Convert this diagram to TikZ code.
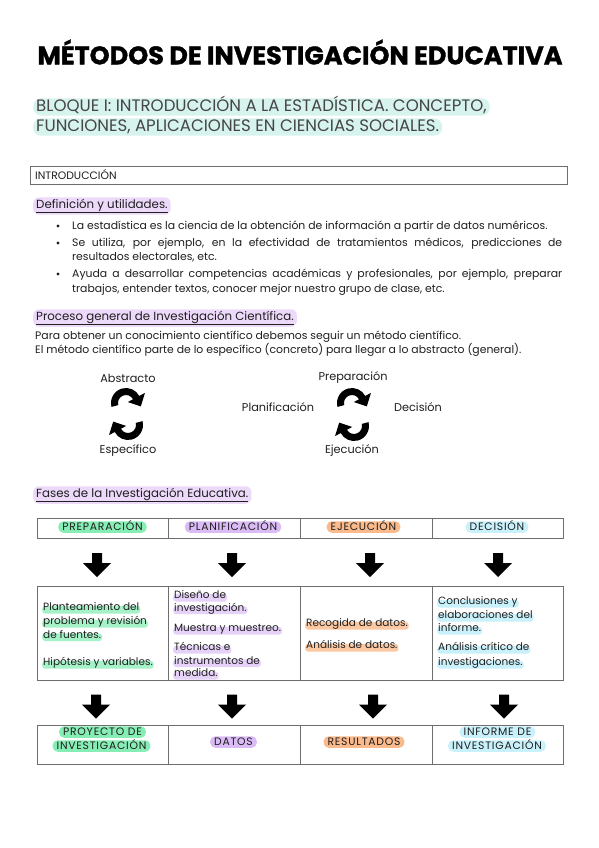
\documentclass[tikz,border=0pt]{standalone}
\usepackage{fontspec}
\setmainfont{Poppins}
\usetikzlibrary{arrows.meta}
\definecolor{teal1}{HTML}{D6F3EE}
\definecolor{lav}{HTML}{EDD9FA}
\definecolor{grn}{HTML}{86EEB4}
\definecolor{grnl}{HTML}{A6F2C8}
\definecolor{pur}{HTML}{DBBBF5}
\definecolor{purl}{HTML}{E6D2F8}
\definecolor{org}{HTML}{FBBA8C}
\definecolor{orgl}{HTML}{FCC8A2}
\definecolor{blu}{HTML}{C9F1FB}
\definecolor{txt}{HTML}{1F1F1F}
\definecolor{txtg}{HTML}{464646}
\definecolor{rule}{HTML}{6E6E6E}
\newcommand\cycTop[2]{%
  \fill[black] ([shift={(#1,#2)}]-195:15) arc[start angle=-195, end angle=-28, radius=15]
    -- ([shift={(#1,#2)}]-28:21.5) -- ([shift={(#1,#2)}]14.8,3.4) -- ([shift={(#1,#2)}]-28:2)
    -- ([shift={(#1,#2)}]-28:8) arc[start angle=-28, end angle=-195, radius=8] -- cycle;}
\newcommand\cycBot[2]{%
  \fill[black] ([shift={(#1,#2)}]-15:15) arc[start angle=-15, end angle=152, radius=15]
    -- ([shift={(#1,#2)}]152:21.5) -- ([shift={(#1,#2)}]-14.8,-3.4) -- ([shift={(#1,#2)}]152:2)
    -- ([shift={(#1,#2)}]152:8) arc[start angle=152, end angle=-15, radius=8] -- cycle;}
\tikzset{
  bloque/.style={anchor=west, font=\fontsize{16.6}{16.6}\selectfont, text=txtg, fill=teal1, rounded corners=8pt, inner xsep=3pt, inner ysep=1pt, text height=11.8pt, text depth=3.5pt},
  heading/.style={anchor=west, font=\fontsize{11.8}{11.8}\selectfont, text=txt, fill=lav, rounded corners=6pt, inner xsep=3pt, inner ysep=1.5pt},
  bodyl/.style={anchor=base west, font=\fontsize{10.85}{10.85}\selectfont, text=txt, inner sep=0pt},
  lbl/.style={font=\fontsize{11.3}{11.3}\selectfont, text=txt, inner sep=0pt},
  dotb/.style={circle, fill=txt, minimum size=3.4pt, inner sep=0pt},
  cell/.style={draw=rule, line width=0.9pt, inner sep=0pt},
  pill/.style={font=\fontsize{10.8}{10.8}\selectfont\addfontfeatures{LetterSpace=7}, text=txt, rounded corners=5pt, inner xsep=4pt, inner ysep=1pt, text height=7.9pt, text depth=1.6pt},
  mk/.style={anchor=base west, font=\fontsize{10.5}{10.5}\selectfont, text=txt, text height=4pt, text depth=2.5pt, inner xsep=1pt, inner ysep=0.6pt, rounded corners=3pt},
  barrow/.pic={\fill[black] (-5,-12) -- (5,-12) -- (5,-2) -- (14,-2) -- (0,12) -- (-14,-2) -- (-5,-2) -- cycle;}
}
\begin{document}
\begin{tikzpicture}[x=1pt,y=-1pt]
\fill[white] (0,0) rectangle (599,848);
\useasboundingbox (0,0) rectangle (599,848);

% title
\node[font=\bfseries\addfontfeatures{FakeBold=1.2}, text=black, inner sep=0pt] (title) at (300,52) {\resizebox{525pt}{!}{MÉTODOS DE INVESTIGACIÓN EDUCATIVA}};

% bloque
\node[bloque] (b1) at (33,107) {BLOQUE I: INTRODUCCIÓN A LA ESTADÍSTICA. CONCEPTO,};
\node[bloque] (b2) at (33,127) {FUNCIONES, APLICACIONES EN CIENCIAS SOCIALES.};

% introduccion box
\node[cell, minimum width=537pt, minimum height=18pt, anchor=north west] (introbox) at (30,166) {};
\node[anchor=west, font=\fontsize{10.8}{10.8}\selectfont, text=txt, inner sep=0pt] (intro) at (35,175) {INTRODUCCIÓN};

% definicion
\node[heading] (def) at (33,206) {\underline{Definición y utilidades.}};
\node[dotb] (d1) at (58,226) {};
\node[dotb] (d2) at (58,243) {};
\node[dotb] (d3) at (58,274) {};
\node[bodyl] (l1) at (72,229) {La estadística es la ciencia de la obtención de información a partir de datos numéricos.};
\node[bodyl] (l2) at (72,246) {\makebox[490pt][s]{Se utiliza, por ejemplo, en la efectividad de tratamientos médicos, predicciones de}};
\node[bodyl] (l3) at (72,260) {resultados electorales, etc.};
\node[bodyl] (l4) at (72,277) {\makebox[490pt][s]{Ayuda a desarrollar competencias académicas y profesionales, por ejemplo, preparar}};
\node[bodyl] (l5) at (72,292) {trabajos, entender textos, conocer mejor nuestro grupo de clase, etc.};

% proceso
\node[heading] (proc) at (33,318) {\underline{Proceso general de Investigación Científica.}};
\node[bodyl] (p1) at (35,339) {Para obtener un conocimiento científico debemos seguir un método científico.};
\node[bodyl] (p2) at (35,353) {El método científico parte de lo específico (concreto) para llegar a lo abstracto (general).};

% cycles
\node[lbl] (abs) at (128,378) {Abstracto};
\node[lbl] (esp) at (128,451) {Específico};
\cycTop{126}{403}
\cycBot{128}{425}

\node[lbl] (prep) at (353,378) {Preparación};
\node[lbl] (plan) at (278,407) {Planificación};
\node[lbl] (deci) at (418,407) {Decisión};
\node[lbl] (ejec) at (352,451) {Ejecución};
\cycTop{352}{403}
\cycBot{354}{426}

% fases
\node[heading] (fases) at (33,495) {\underline{Fases de la Investigación Educativa.}};

% header row
\node[cell, minimum width=131pt, minimum height=20pt] (h1) at (102.5,528) {};
\node[cell, minimum width=132pt, minimum height=20pt] (h2) at (234,528) {};
\node[cell, minimum width=132pt, minimum height=20pt] (h3) at (366,528) {};
\node[cell, minimum width=131pt, minimum height=20pt] (h4) at (497.5,528) {};
\node[pill, fill=grn] (t1) at (102.5,527) {PREPARACIÓN};
\node[pill, fill=pur] (t2) at (233,527) {PLANIFICACIÓN};
\node[pill, fill=org] (t3) at (363.5,527) {EJECUCIÓN};
\node[pill, fill=blu] (t4) at (497,527) {DECISIÓN};

% arrows 1
\pic (a1) at (97,565) {barrow};
\pic (a2) at (232,565) {barrow};
\pic (a3) at (370,565) {barrow};
\pic (a4) at (498,565) {barrow};

% middle row
\node[cell, minimum width=131pt, minimum height=94pt] (m1) at (102.5,633) {};
\node[cell, minimum width=132pt, minimum height=94pt] (m2) at (234,633) {};
\node[cell, minimum width=132pt, minimum height=94pt] (m3) at (366,633) {};
\node[cell, minimum width=131pt, minimum height=94pt] (m4) at (497.5,633) {};

\node[mk, fill=grnl] (c11) at (42,610.5) {Planteamiento del};
\node[mk, fill=grnl] (c12) at (42,624.5) {problema y revisión};
\node[mk, fill=grnl] (c13) at (42,638) {de fuentes.};
\node[mk, fill=grnl] (c14) at (42,665.5) {Hipótesis y variables.};

\node[mk, fill=purl] (c21) at (173,598.5) {Diseño de};
\node[mk, fill=purl] (c22) at (173,611) {investigación.};
\node[mk, fill=purl] (c23) at (173,631.5) {Muestra y muestreo.};
\node[mk, fill=purl] (c24) at (173,650.5) {Técnicas e};
\node[mk, fill=purl] (c25) at (173,664) {instrumentos de};
\node[mk, fill=purl] (c26) at (173,676.5) {medida.};

\node[mk, fill=orgl] (c31) at (305,626.5) {Recogida de datos.};
\node[mk, fill=orgl] (c32) at (305,648.5) {Análisis de datos.};

\node[mk, fill=blu] (c41) at (437,604.5) {Conclusiones y};
\node[mk, fill=blu] (c42) at (437,618.5) {elaboraciones del};
\node[mk, fill=blu] (c43) at (437,631.5) {informe.};
\node[mk, fill=blu] (c44) at (437,650.5) {Análisis crítico de};
\node[mk, fill=blu] (c45) at (437,665.5) {investigaciones.};

% arrows 2
\pic (a5) at (96,706.5) {barrow};
\pic (a6) at (232,706.5) {barrow};
\pic (a7) at (373,706.5) {barrow};
\pic (a8) at (504,706.5) {barrow};

% bottom row
\node[cell, minimum width=131pt, minimum height=39pt] (r1) at (102.5,744.5) {};
\node[cell, minimum width=132pt, minimum height=39pt] (r2) at (234,744.5) {};
\node[cell, minimum width=132pt, minimum height=39pt] (r3) at (366,744.5) {};
\node[cell, minimum width=131pt, minimum height=39pt] (r4) at (497.5,744.5) {};
\node[pill, fill=grn] (s1a) at (102.5,732) {PROYECTO DE};
\node[pill, fill=grn] (s1b) at (101.5,746) {INVESTIGACIÓN};
\node[pill, fill=pur] (s2) at (233.5,742) {DATOS};
\node[pill, fill=org] (s3) at (364,742) {RESULTADOS};
\node[pill, fill=blu] (s4a) at (497.5,732) {INFORME DE};
\node[pill, fill=blu] (s4b) at (497,746) {INVESTIGACIÓN};
\end{tikzpicture}
\end{document}
